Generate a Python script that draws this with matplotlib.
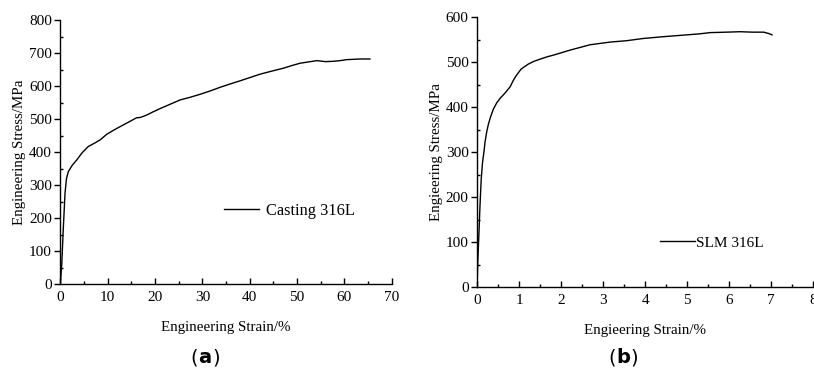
import matplotlib
matplotlib.use("Agg")
import matplotlib.pyplot as plt
from matplotlib.ticker import MultipleLocator

plt.rcParams['font.family'] = ['Liberation Serif', 'DejaVu Serif']

# Panel (a): Casting 316L
cast_strain = [0.0, 0.3, 0.6, 0.99, 1.3, 1.69, 2.5, 3.45, 4.6, 5.9, 7.2, 8.4, 9.8,
               11.2, 12.6, 14.3, 16.1, 16.9, 18.2, 19.6, 21.1, 23.2, 25.3, 27.4, 29.5,
               31.6, 33.7, 35.8, 38.0, 40.1, 42.2, 44.6, 47.1, 48.9, 50.6, 52.4, 54.2,
               56.0, 57.7, 59.1, 60.5, 62.0, 63.3, 65.4]
cast_stress = [0, 60, 160, 275, 320, 341, 360, 376, 398, 417, 427, 437, 454,
               466, 477, 490, 504, 505, 512, 522, 532, 545, 558, 566, 575,
               585, 596, 606, 616, 626, 636, 645, 654, 662, 669, 673, 677,
               674, 675, 677, 680, 681, 682, 682]

# Panel (b): SLM 316L
slm_strain = [0.0, 0.02, 0.05, 0.07, 0.10, 0.13, 0.17, 0.19, 0.23, 0.27, 0.32, 0.39,
              0.47, 0.55, 0.67, 0.79, 0.865, 0.93, 1.05, 1.22, 1.35, 1.5, 1.66, 1.82,
              2.0, 2.21, 2.45, 2.69, 2.93, 3.17, 3.56, 3.96, 4.2, 4.44, 4.72, 4.99,
              5.27, 5.55, 5.94, 6.26, 6.55, 6.82, 6.94, 7.02]
slm_stress = [0, 60, 130, 179, 240, 276, 305, 322, 345, 362, 378, 396,
              410, 420, 432, 446, 460, 470, 485, 496, 502, 507, 512, 516,
              521, 527, 533, 539, 542, 545, 548, 553, 555, 557, 559, 561,
              563, 566, 567, 568, 567, 567, 564, 561]

fig = plt.figure(figsize=(8.14, 3.73), dpi=100)

axA = fig.add_axes([0.0741, 0.2378, 0.4071, 0.7086])
axB = fig.add_axes([0.5860, 0.2298, 0.4131, 0.7238])

for ax in (axA, axB):
    ax.spines['top'].set_visible(False)
    ax.spines['right'].set_visible(False)
    for s in ('left', 'bottom'):
        ax.spines[s].set_linewidth(1.0)
    ax.tick_params(axis='both', which='major', labelsize=11, width=1.0, length=4)
    ax.tick_params(axis='both', which='minor', width=1.0, length=2.5)
    ax.tick_params(axis='x', which='both', direction='in', pad=5)
    ax.tick_params(axis='y', which='major', direction='out', pad=2)
    ax.tick_params(axis='y', which='minor', direction='in')

axA.plot(cast_strain, cast_stress, color='black', lw=1.0, label='Casting 316L')
axA.set_xlim(0, 70)
axA.set_ylim(0, 800)
axA.xaxis.set_major_locator(MultipleLocator(10))
axA.xaxis.set_minor_locator(MultipleLocator(5))
axA.yaxis.set_major_locator(MultipleLocator(100))
axA.yaxis.set_minor_locator(MultipleLocator(50))
axA.set_xlabel('Engineering Strain/%', fontsize=10.8, labelpad=12)
axA.set_ylabel('Engineering Stress/MPa', fontsize=10.8, labelpad=2)
axA.legend(loc='center left', bbox_to_anchor=(0.494, 0.277), frameon=False,
           fontsize=11.8, handlelength=2.15, handletextpad=0.4, borderpad=0,
           borderaxespad=0)

axB.plot(slm_strain, slm_stress, color='black', lw=1.0, label='SLM 316L')
axB.set_xlim(0, 8)
axB.set_ylim(0, 600)
axB.xaxis.set_major_locator(MultipleLocator(1))
axB.xaxis.set_minor_locator(MultipleLocator(0.5))
axB.yaxis.set_major_locator(MultipleLocator(100))
axB.yaxis.set_minor_locator(MultipleLocator(50))
axB.set_xlabel('Engieering Strain/%', fontsize=10.8, labelpad=12)
axB.set_ylabel('Engieering Stress/MPa', fontsize=10.8, labelpad=2)
axB.legend(loc='center left', bbox_to_anchor=(0.544, 0.165), frameon=False,
           fontsize=11, handlelength=2.3, handletextpad=0.05, borderpad=0,
           borderaxespad=0)

sans = ['DejaVu Sans']
for xc, letter in ((205, 'a'), (623, 'b')):
    t = fig.text(xc / 814, 1 - 367 / 373, letter, fontsize=14, ha='center',
                 va='bottom', family=sans, fontweight='bold')
    fig.add_artist(matplotlib.text.Annotation(
        '(', xy=(0, 0), xycoords=t, ha='right', va='bottom', fontsize=14,
        family=sans, xytext=(-0.3, 0), textcoords='offset points'))
    fig.add_artist(matplotlib.text.Annotation(
        ')', xy=(1, 0), xycoords=t, ha='left', va='bottom', fontsize=14,
        family=sans, xytext=(0.3, 0), textcoords='offset points'))

fig.savefig('out.png', dpi=100)
